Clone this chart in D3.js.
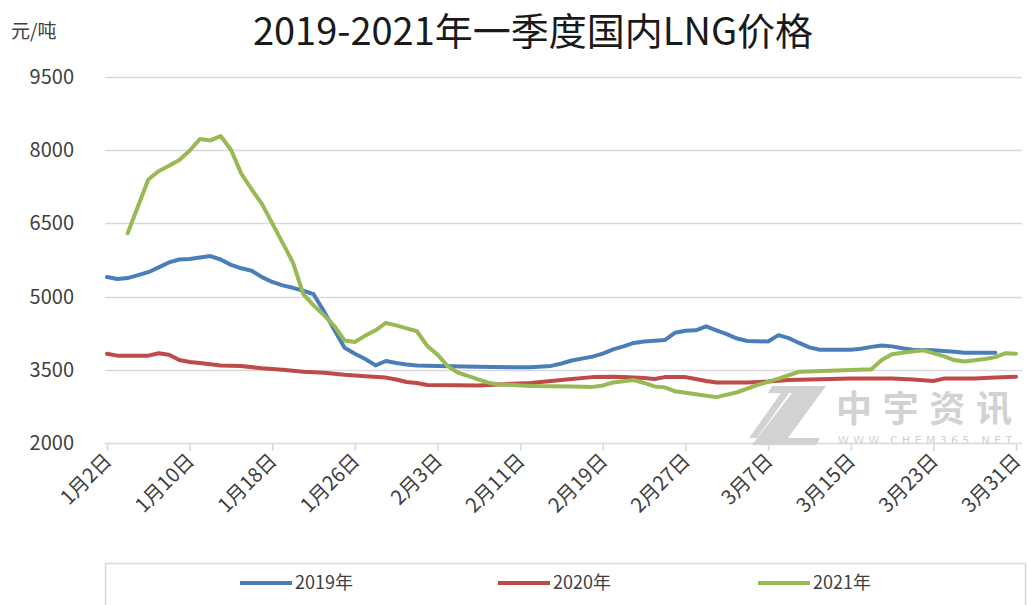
<!DOCTYPE html>
<html><head><meta charset="utf-8">
<script src="https://cdn.jsdelivr.net/npm/d3@7"></script>
<style>body{margin:0;background:#fff}svg{display:block}</style>
</head><body><svg id="c" width="1028" height="605"></svg>
<script>
const chartTitle = "2019-2021年一季度国内LNG价格";
const unitLabel = "元/吨";
const yTicks = [2000, 3500, 5000, 6500, 8000, 9500];
const xTickDates = ["1-2","1-10","1-18","1-26","2-3","2-11","2-19","2-27","3-7","3-15","3-23","3-31"];
const xTickLabels = ["1月2日","1月10日","1月18日","1月26日","2月3日","2月11日","2月19日","2月27日","3月7日","3月15日","3月23日","3月31日"];
const seriesNames = ["2019年","2020年","2021年"];

const dates2019 = ["1-2","1-3","1-4","1-6","1-7","1-8","1-9","1-10","1-11","1-12","1-13","1-14","1-15","1-16","1-17","1-18","1-19","1-20","1-21","1-22","1-23","1-24","1-25","1-26","1-27","1-28","1-29","1-30","1-31","2-1","2-3","2-7","2-12","2-14","2-15","2-16","2-18","2-19","2-20","2-21","2-22","2-23","2-25","2-26","2-27","2-28","3-1","3-2","3-3","3-4","3-5","3-7","3-8","3-9","3-10","3-11","3-12","3-15","3-16","3-17","3-18","3-19","3-20","3-21","3-23","3-25","3-26","3-29"];
const values2019 = [5400,5360,5380,5500,5600,5700,5760,5770,5800,5830,5760,5650,5580,5530,5400,5300,5230,5180,5120,5050,4700,4320,3950,3830,3720,3590,3680,3640,3610,3590,3580,3560,3550,3580,3630,3690,3770,3830,3920,3980,4050,4080,4110,4260,4300,4310,4390,4310,4230,4140,4090,4080,4210,4150,4050,3960,3910,3910,3930,3970,4000,3980,3940,3910,3900,3870,3850,3850];

const dates2020 = ["1-2","1-3","1-6","1-7","1-8","1-9","1-10","1-11","1-13","1-15","1-17","1-19","1-21","1-23","1-25","1-27","1-29","1-30","1-31","2-1","2-2","2-7","2-12","2-14","2-16","2-18","2-20","2-21","2-23","2-24","2-25","2-27","2-28","3-1","3-2","3-5","3-7","3-9","3-15","3-19","3-21","3-23","3-24","3-27","3-29","3-31"];
const values2020 = [3830,3790,3790,3840,3810,3700,3660,3640,3590,3580,3530,3500,3460,3440,3400,3370,3340,3300,3250,3230,3190,3180,3230,3270,3310,3350,3360,3350,3330,3310,3350,3350,3310,3270,3240,3240,3260,3290,3320,3320,3300,3270,3320,3320,3340,3360];

const dates2021 = ["1-4","1-6","1-7","1-8","1-9","1-10","1-11","1-12","1-13","1-14","1-15","1-16","1-17","1-18","1-19","1-20","1-21","1-22","1-23","1-24","1-25","1-26","1-27","1-28","1-29","1-30","1-31","2-1","2-2","2-3","2-4","2-5","2-6","2-7","2-8","2-9","2-12","2-16","2-18","2-19","2-20","2-22","2-23","2-24","2-25","2-26","2-28","3-2","3-3","3-4","3-6","3-8","3-10","3-13","3-17","3-18","3-19","3-20","3-22","3-24","3-25","3-26","3-28","3-29","3-30","3-31"];
const values2021 = [6300,7400,7570,7680,7800,7990,8230,8200,8290,8010,7520,7200,6900,6500,6100,5700,5050,4820,4620,4400,4100,4070,4200,4310,4460,4410,4350,4290,3990,3810,3570,3440,3370,3300,3230,3200,3170,3160,3150,3180,3240,3290,3230,3160,3140,3060,3000,2940,2990,3040,3190,3320,3460,3480,3510,3700,3820,3850,3900,3780,3700,3670,3720,3760,3840,3830];

const colors = ["#4a7ebb", "#be4b48", "#98b954"];

const toDate = s => { const [m, d] = s.split("-").map(Number); return new Date(2019, m - 1, d); };

const svg = d3.select("#c");
const pLeft = 107, pRight = 1016, pTop = 77, pBottom = 443;
const x = d3.scaleTime().domain([toDate("1-2"), toDate("3-31")]).range([pLeft, pRight]);
const y = d3.scaleLinear().domain([2000, 9500]).range([pBottom, pTop]);

const font = "'Noto Sans CJK SC', 'Noto Sans', sans-serif";
const textColor = "#404040";

svg.append("g").selectAll("line").data(yTicks.filter(v => v !== 2000)).join("line")
  .attr("x1", 105).attr("x2", 1022)
  .attr("y1", d => Math.round(y(d)) + 0.5).attr("y2", d => Math.round(y(d)) + 0.5)
  .attr("stroke", "#d9d9d9").attr("stroke-width", 1.5);

svg.append("g").selectAll("text").data(yTicks).join("text")
  .attr("x", 74).attr("y", d => y(d)).attr("dy", "0.35em")
  .attr("text-anchor", "end").attr("font-family", font).attr("font-size", 20)
  .attr("fill", textColor).text(d => d);

const xAxis = d3.axisBottom(x).tickValues(xTickDates.map(toDate)).tickSize(8).tickFormat("");
const gx = svg.append("g").attr("transform", `translate(0,${pBottom})`).call(xAxis);
gx.select(".domain").attr("stroke", "#d9d9d9").attr("stroke-width", 1.5).attr("d", `M105,0.5H1022`);
gx.selectAll(".tick line").attr("stroke", "#d9d9d9").attr("stroke-width", 1.5);

svg.append("g").selectAll("text").data(xTickDates).join("text")
  .attr("transform", d => `translate(${x(toDate(d)) + 6},${pBottom + 19}) rotate(-45)`)
  .attr("text-anchor", "end").attr("font-family", font).attr("font-size", 20)
  .attr("fill", textColor).text((d, i) => xTickLabels[i]);

const wm = svg.append("g").attr("fill", "#d2d2d2");
wm.append("path").attr("d", "M772,386 L826,386 L788,438 L820,438 L816,445 L752,445 L792,393 L768,393 Z");
wm.append("path").attr("d", "M786,386 L794,386 L757,438 L749,438 Z");
wm.append("text").attr("x", 836).attr("y", 422).attr("font-family", font).attr("font-weight", "bold")
  .attr("font-size", 36).attr("textLength", 176).text("中宇资讯");
wm.append("text").attr("x", 838).attr("y", 444).attr("font-family", "'DejaVu Sans', sans-serif")
  .attr("font-size", 11).attr("textLength", 174).text("WWW.CHEM365.NET");

const series = [
  { name: seriesNames[0], dates: dates2019, values: values2019, color: colors[0] },
  { name: seriesNames[1], dates: dates2020, values: values2020, color: colors[1] },
  { name: seriesNames[2], dates: dates2021, values: values2021, color: colors[2] }
];
const line = d3.line().x(d => x(d[0])).y(d => y(d[1]));
svg.append("g").selectAll("path").data(series).join("path")
  .attr("d", s => line(s.dates.map((d, i) => [toDate(d), s.values[i]])))
  .attr("fill", "none").attr("stroke", s => s.color).attr("stroke-width", 4)
  .attr("stroke-linejoin", "round").attr("stroke-linecap", "round");

svg.append("text").attr("x", 533).attr("y", 45).attr("text-anchor", "middle")
  .attr("font-family", font).attr("font-size", 38).attr("fill", "#1a1a1a").text(chartTitle);
svg.append("text").attr("x", 11).attr("y", 38).attr("font-family", font).attr("font-size", 19)
  .attr("fill", "#404040").text(unitLabel);

svg.append("rect").attr("x", 105.5).attr("y", 563.5).attr("width", 920).attr("height", 60)
  .attr("fill", "none").attr("stroke", "#d9d9d9").attr("stroke-width", 1.5);
const legX = [240, 498, 758];
const lg = svg.append("g").selectAll("g").data(series).join("g")
  .attr("transform", (s, i) => `translate(${legX[i]},583)`);
lg.append("line").attr("x1", 0).attr("x2", 52).attr("stroke", s => s.color).attr("stroke-width", 4);
lg.append("text").attr("x", 55).attr("dy", "0.35em").attr("font-family", font).attr("font-size", 18)
  .attr("fill", textColor).text(s => s.name);
</script></body></html>
